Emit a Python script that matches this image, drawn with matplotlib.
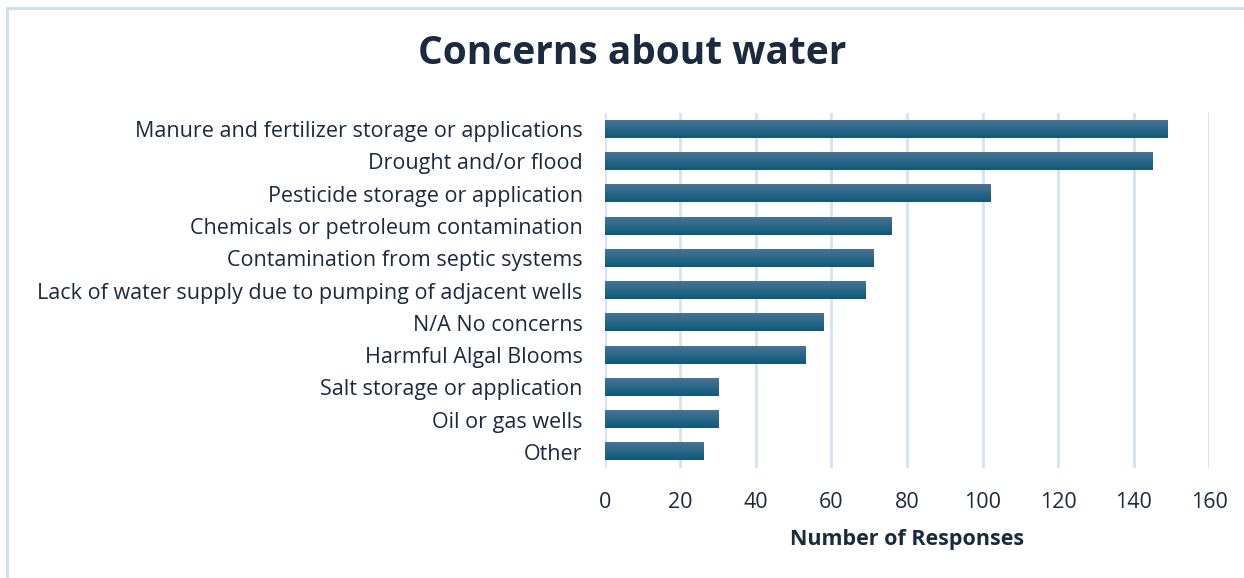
import numpy as np
import matplotlib as mpl
import matplotlib.pyplot as plt
from matplotlib.colors import LinearSegmentedColormap
from matplotlib.patches import Rectangle

mpl.rcParams['font.family'] = ['Open Sans', 'DejaVu Sans']

categories = ['Manure and fertilizer storage or applications',
              'Drought and/or flood',
              'Pesticide storage or application',
              'Chemicals or petroleum contamination',
              'Contamination from septic systems',
              'Lack of water supply due to pumping of adjacent wells',
              'N/A No concerns',
              'Harmful Algal Blooms',
              'Salt storage or application',
              'Oil or gas wells',
              'Other']
responses = [149, 145, 102, 76, 71, 69, 58, 53, 30, 30, 26]
xticks = [0, 20, 40, 60, 80, 100, 120, 140, 160]

text_col = '#1b2a3f'
grad = LinearSegmentedColormap.from_list('g', ['#0b5a7e', '#4c7391'])

fig = plt.figure(figsize=(12.44, 5.78), dpi=100)
ax = fig.add_axes([0.4863, 0.1903, 0.4856, 0.6142])

y = np.arange(len(categories))
h = 0.53
bars = ax.barh(y, responses, height=h, color='#1e6487', zorder=2)
g = np.linspace(0, 1, 64).reshape(-1, 1)
for b in bars:
    x0, y0 = b.get_x(), b.get_y()
    ax.imshow(g, cmap=grad, aspect='auto', origin='lower',
              extent=[x0, x0 + b.get_width(), y0 + b.get_height(), y0], zorder=3)

ax.set_ylim(len(categories) - 0.5, -0.5)
ax.set_xlim(0, 160)
ax.set_xticks(xticks)
ax.set_yticks(y)
ax.set_yticklabels(categories)
for s in ax.spines.values():
    s.set_visible(False)
ax.grid(axis='x', color='#d3e2f3', linewidth=2, zorder=0)
ax.set_axisbelow(True)
ax.tick_params(axis='both', length=0, labelsize=15.5, colors=text_col)
ax.tick_params(axis='x', pad=17)
ax.tick_params(axis='y', pad=16)
ax.set_xlabel('Number of Responses', fontsize=15.5, fontweight='bold',
              color=text_col, labelpad=12)

fig.text(0.508, 0.908, 'Concerns about water', ha='center', va='center',
         fontsize=28, fontweight='bold', color=text_col)

fig.patches.append(Rectangle((7 / 1244, -0.05), 1.1, 1 - 8 / 578 + 0.05,
                             transform=fig.transFigure, fill=False,
                             edgecolor='#c9ddf1', linewidth=2))

fig.savefig('out.png', dpi=100)
